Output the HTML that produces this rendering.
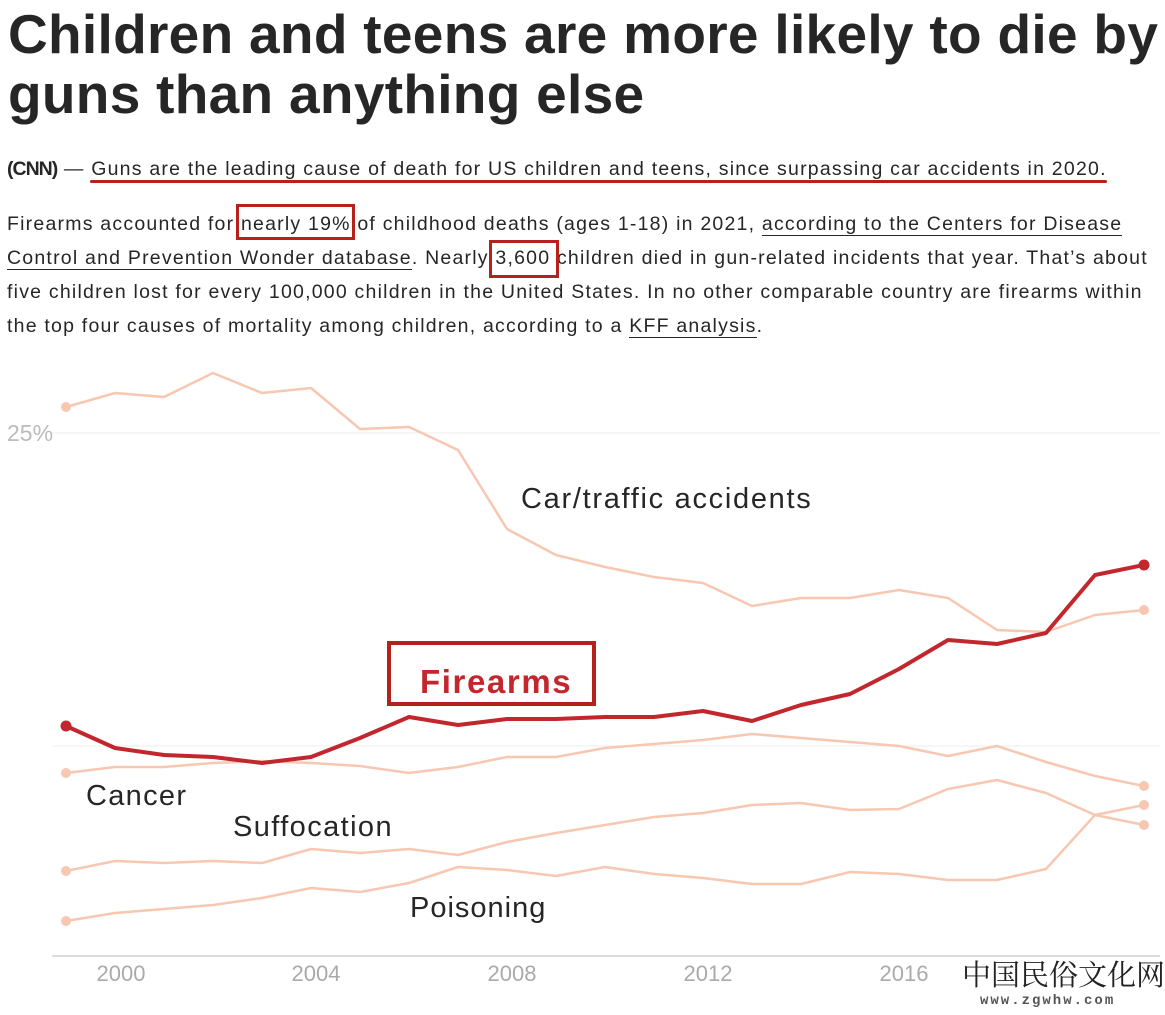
<!DOCTYPE html>
<html><head><meta charset="utf-8"><style>
body{margin:0;width:1165px;height:1015px;background:#fff;overflow:hidden;font-family:"Liberation Sans",Arial,sans-serif;position:relative}
h1{position:absolute;left:8px;top:4px;margin:0;font-size:55px;line-height:60px;font-weight:bold;color:#262626;letter-spacing:0.3px;width:1165px;white-space:nowrap}
.p{position:absolute;left:7px;font-size:19.5px;color:#262626;white-space:nowrap;letter-spacing:1.22px}
.u{border-bottom:1px solid #262626}
.box{position:absolute;border:3px solid #b5211c}
</style></head><body>
<h1>Children and teens are more likely to die by<br>guns than anything else</h1>
<div class="p" style="top:158px"><b style="letter-spacing:-1px">(CNN)</b> — Guns are the leading cause of death for US children and teens, since surpassing car accidents in 2020.</div>
<div style="position:absolute;left:90px;top:180px;width:1017px;height:3px;background:#b5211c;border-radius:2px"></div>
<div class="p" style="top:213px">Firearms accounted for nearly 19% of childhood deaths (ages 1-18) in 2021, <span class="u">according to the Centers for Disease</span></div>
<div class="p" style="top:247px"><span class="u">Control and Prevention Wonder database</span>. Nearly 3,600 children died in gun-related incidents that year. That’s about</div>
<div class="p" style="top:281px">five children lost for every 100,000 children in the United States. In no other comparable country are firearms within</div>
<div class="p" style="top:315px">the top four causes of mortality among children, according to a <span class="u">KFF analysis</span>.</div>
<div class="box" style="left:236px;top:204px;width:113px;height:30px"></div>
<div class="box" style="left:489px;top:240px;width:64px;height:32px"></div>
<svg width="1165" height="1015" style="position:absolute;left:0;top:0">
<line x1="52" y1="433" x2="1160" y2="433" stroke="#eee"/>
<line x1="52" y1="746" x2="1160" y2="746" stroke="#eee"/>
<line x1="52" y1="956" x2="1160" y2="956" stroke="#ddd" stroke-width="2"/>
<text x="7" y="441" font-size="23" fill="#bbb" font-family="Liberation Sans">25%</text>
<g font-size="22" fill="#aaa" font-family="Liberation Sans" text-anchor="middle">
<text x="121" y="981">2000</text><text x="316" y="981">2004</text><text x="512" y="981">2008</text><text x="708" y="981">2012</text><text x="904" y="981">2016</text>
</g>
<g fill="none" stroke="#f8c7b2" stroke-width="2.5" stroke-linejoin="round">
<polyline points="66,407 115,393 164,397 213,373 262,393 311,388 360,429 409,427 458,450 507,529 556,555 605,567 654,577 703,583 752,606 801,598 850,598 899,590 948,598 997,630 1046,632 1095,615 1144,610"/>
<polyline points="66,773 115,767 164,767 213,763 262,761 311,763 360,766 409,773 458,767 507,757 556,757 605,748 654,744 703,740 752,734 801,738 850,742 899,746 948,756 997,746 1046,762 1095,776 1144,786"/>
<polyline points="66,871 115,861 164,863 213,861 262,863 311,849 360,853 409,849 458,855 507,842 556,833 605,825 654,817 703,813 752,805 801,803 850,810 899,809 948,789 997,780 1046,793 1095,815 1144,825"/>
<polyline points="66,921 115,913 164,909 213,905 262,898 311,888 360,892 409,883 458,867 507,870 556,876 605,867 654,874 703,878 752,884 801,884 850,872 899,874 948,880 997,880 1046,869 1095,815 1144,805"/>
</g>
<g fill="#f8c7b2"><circle cx="66" cy="407" r="5"/><circle cx="1144" cy="610" r="5"/><circle cx="66" cy="773" r="5"/><circle cx="1144" cy="786" r="5"/><circle cx="66" cy="871" r="5"/><circle cx="1144" cy="825" r="5"/><circle cx="66" cy="921" r="5"/><circle cx="1144" cy="805" r="5"/></g>
<polyline fill="none" stroke="#c1272d" stroke-width="4" stroke-linejoin="round" points="66,726 115,748 164,755 213,757 262,763 311,757 360,738 409,717 458,725 507,719 556,719 605,717 654,717 703,711 752,721 801,705 850,694 899,669 948,640 997,644 1046,633 1095,575 1144,565"/>
<circle cx="66" cy="726" r="5.5" fill="#c1272d"/><circle cx="1144" cy="565" r="5.5" fill="#c1272d"/>
<rect x="389" y="643" width="205" height="61" fill="none" stroke="#b5211c" stroke-width="4"/>
<g font-family="Liberation Sans" font-size="29" fill="#262626">
<text x="521" y="508" letter-spacing="1.7">Car/traffic accidents</text>
<text x="86" y="805" letter-spacing="1.3">Cancer</text>
<text x="233" y="836" letter-spacing="1.4">Suffocation</text>
<text x="410" y="917" letter-spacing="1">Poisoning</text>
</g>
<text x="420" y="693" font-family="Liberation Sans" font-size="33" font-weight="bold" fill="#c1272d" letter-spacing="1.6">Firearms</text>
<text x="962" y="985" font-family="'Noto Serif CJK SC',serif" font-size="29" fill="#222">中国民俗文化网</text>
<text x="980" y="1004" font-family="Liberation Mono" font-size="14" font-weight="bold" fill="#555" letter-spacing="2">www.zgwhw.com</text>
</svg>
</body></html>
